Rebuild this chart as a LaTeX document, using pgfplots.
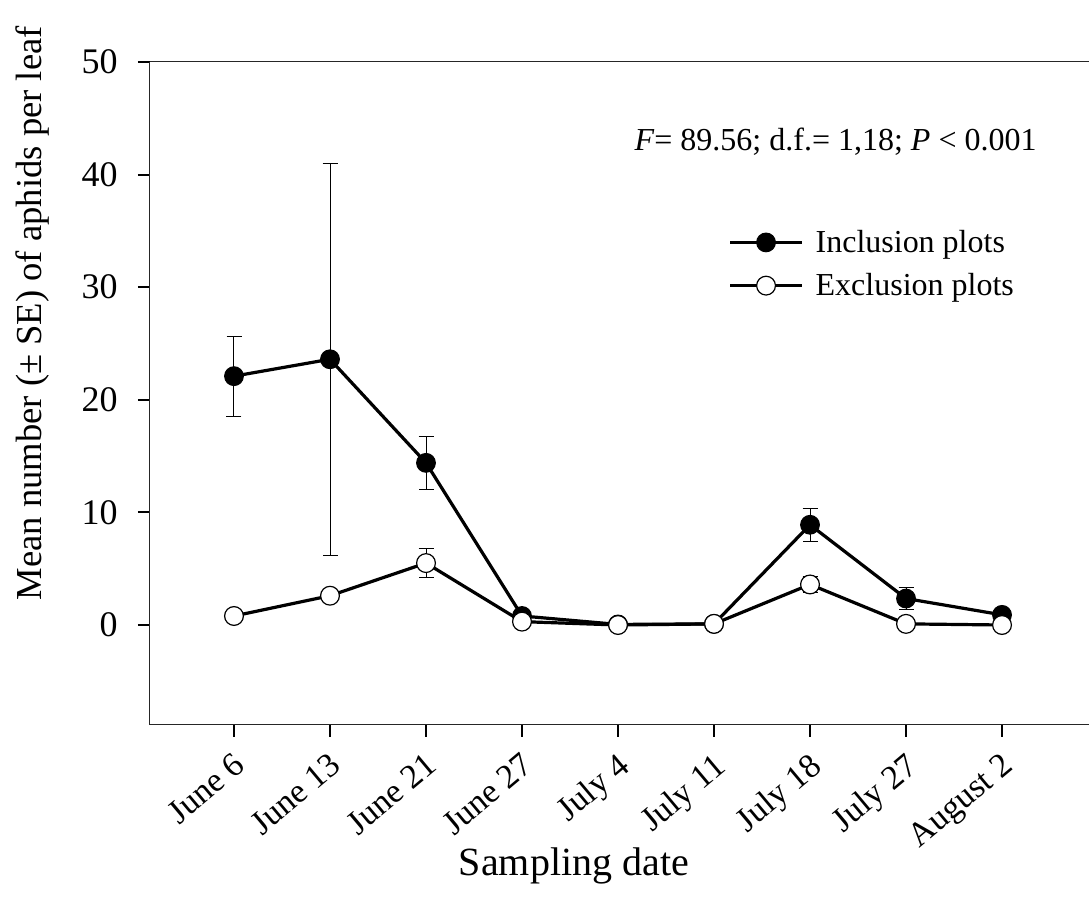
\documentclass[border=0pt]{standalone}
\usepackage{fontspec}
\setmainfont{Liberation Serif}
\usepackage{pgfplots}
\pgfplotsset{compat=1.18}
\begin{document}
\begin{tikzpicture}
\begin{axis}[
  at={(0,0)}, anchor=south west,
  scale only axis, width=469.5pt, height=331.5pt,
  xmin=-0.875, xmax=8.906, ymin=-8.88, ymax=50,
  axis x line*=box, axis y line*=left,
  xtick={0,...,8},
  xticklabels={June 6, June 13, June 21, June 27, July 4, July 11, July 18, July 27, August 2},
  ytick={0,10,...,50},
  xtick pos=left, ytick pos=left,
  tick align=outside, major tick length=6pt,
  tick style={black, line width=1pt},
  axis line style={line width=0.5pt, black!85},
  xticklabel style={font=\fontsize{17}{20}\selectfont},
  yticklabel style={font=\fontsize{18}{21}\selectfont},
  /pgf/number format/assume math mode=true,
  yticklabel style={anchor=east, inner sep=0pt, xshift=-10pt},
  xticklabel style={xshift=-1pt, yshift=-7pt, rotate=40, anchor=north east, inner sep=0pt},
  every axis x label/.style={at={(rel axis cs:0.4515,0)}, yshift=-70.5pt, anchor=center, font=\fontsize{20}{24}\selectfont},
  every axis y label/.style={at={(rel axis cs:0,0.621)}, xshift=-58.5pt, rotate=90, anchor=center, font=\fontsize{18.3}{22}\selectfont},
  xlabel={Sampling date},
  ylabel={Mean number (± SE) of aphids per leaf},
  legend style={draw=none, fill=none, at={(rel axis cs:0.6156,0.7535)}, anchor=north west,
    font=\fontsize{16}{19}\selectfont, row sep=5pt, inner sep=0pt, cells={anchor=west},
    nodes={inner xsep=6pt}},
  legend image code/.code={\draw[mark repeat=2,mark phase=2] plot coordinates {(0pt,0pt)(18pt,0pt)(36pt,0pt)};},
  clip=false,
]
\addplot[black, line width=1.6pt, mark=*, mark size=4.7pt,
  mark options={fill=black, line width=0.5pt},
  error bars/.cd, y dir=both, y explicit,
  error bar style={line width=0.5pt, black},
  error mark options={rotate=90, line width=0.5pt, mark size=3.75pt, black}]
coordinates {
 (0,22.1) +- (0,3.55)
 (1,23.6) +- (0,17.4)
 (2,14.4) +- (0,2.35)
 (3,0.8) +- (0,0.3)
 (4,0.05) +- (0,0.05)
 (5,0.1) +- (0,0.1)
 (6,8.9) +- (0,1.45)
 (7,2.35) +- (0,1.0)
 (8,0.9) +- (0,0.3)
};
\addlegendentry{Inclusion plots}
\addplot[black, line width=1.6pt, mark=*, mark size=4.7pt,
  mark options={fill=white, draw=black, line width=0.6pt},
  error bars/.cd, y dir=both, y explicit,
  error bar style={line width=0.5pt, black},
  error mark options={rotate=90, line width=0.5pt, mark size=3.75pt, black}]
coordinates {
 (0,0.8) +- (0,0.2)
 (1,2.6) +- (0,0.3)
 (2,5.5) +- (0,1.27)
 (3,0.3) +- (0,0.1)
 (4,0.0) +- (0,0.0)
 (5,0.1) +- (0,0.05)
 (6,3.6) +- (0,0.75)
 (7,0.1) +- (0,0.05)
 (8,0.0) +- (0,0.0)
};
\addlegendentry{Exclusion plots}
\node[anchor=base east, font=\fontsize{16}{19}\selectfont, inner sep=0pt] at (rel axis cs:0.9446,0.867) {\textit{F}= 89.56; d.f.= 1,18; \textit{P} < 0.001};
\end{axis}
\pgfresetboundingbox
\path (-75pt,-86.5pt) rectangle (469.5pt,362.5pt);
\end{tikzpicture}
\end{document}
